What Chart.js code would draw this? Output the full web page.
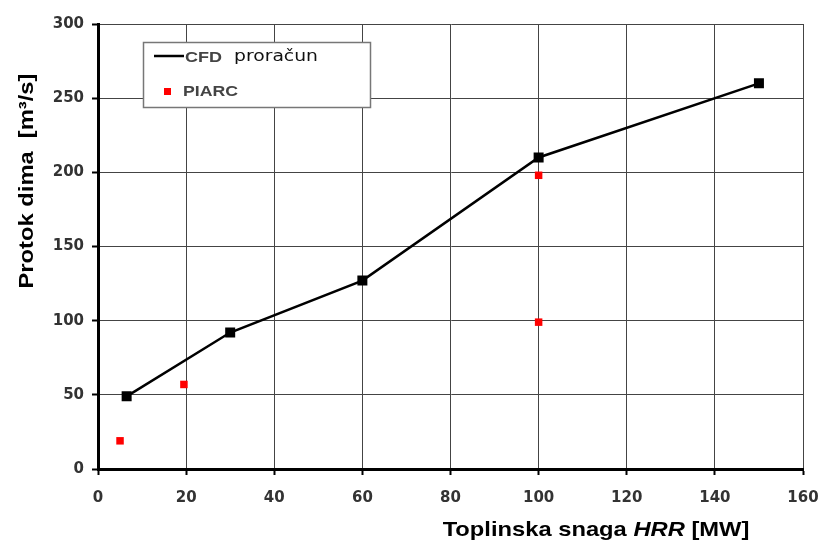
<!DOCTYPE html>
<html>
<head>
<meta charset="utf-8">
<script src="https://cdn.jsdelivr.net/npm/chart.js@4/dist/chart.umd.min.js"></script>
<style>
  html, body { margin: 0; padding: 0; background: #fff; }
  #wrap { width: 821px; height: 543px; }
</style>
</head>
<body>
<div id="wrap"><canvas id="chart" width="821" height="543"></canvas></div>
<script>
// values
var cfdX = [6.5, 30, 60, 100, 150];
var cfdY = [49, 92, 127, 210, 260];
var piarcX = [5, 19.5, 100, 100];
var piarcY = [19, 57, 198, 99];
var xTicks = [0, 20, 40, 60, 80, 100, 120, 140, 160];
var yTicks = [0, 50, 100, 150, 200, 250, 300];

function pts(xs, ys) {
    return xs.map(function (x, i) { return { x: x, y: ys[i] }; });
}

var ARIAL = '"Liberation Sans", Arial, sans-serif';

// draws runs of text with a horizontal stretch, left edge at x
function stretchedRuns(ctx, runs, x, y, sx) {
    ctx.save();
    ctx.translate(x, y);
    ctx.scale(sx, 1);
    var cx = 0;
    runs.forEach(function (r) {
        ctx.font = r.font;
        ctx.fillStyle = r.color || '#000';
        ctx.fillText(r.text, cx, 0);
        cx += ctx.measureText(r.text).width;
    });
    ctx.restore();
}

function runsWidth(ctx, runs) {
    var w = 0;
    runs.forEach(function (r) { ctx.font = r.font; w += ctx.measureText(r.text).width; });
    return w;
}

// axis titles and boxed legend drawn by hand
var decorations = {
    id: 'decorations',
    afterDraw: function (chart) {
        var ctx = chart.ctx;
        var s = 1.13;
        ctx.save();
        ctx.textBaseline = 'middle';

        // y title
        var yRuns = [{ text: 'Protok dima  [m\u00b3/s]', font: 'bold 21px ' + ARIAL }];
        ctx.save();
        ctx.translate(27, 181);
        ctx.rotate(-Math.PI / 2);
        stretchedRuns(ctx, yRuns, -runsWidth(ctx, yRuns) * s / 2, 0, s);
        ctx.restore();

        // x title, HRR in italics
        var xRuns = [
            { text: 'Toplinska snaga ', font: 'bold 21px ' + ARIAL },
            { text: 'HRR', font: 'italic bold 21px ' + ARIAL },
            { text: ' [MW]', font: 'bold 21px ' + ARIAL }
        ];
        stretchedRuns(ctx, xRuns, 596 - runsWidth(ctx, xRuns) * s / 2, 530, s);

        // legend box
        ctx.fillStyle = '#fff';
        ctx.fillRect(143, 42, 227, 65);
        ctx.strokeStyle = '#777';
        ctx.lineWidth = 1.5;
        ctx.strokeRect(143.5, 42.5, 227, 65);
        ctx.strokeStyle = '#000';
        ctx.lineWidth = 2.5;
        ctx.beginPath();
        ctx.moveTo(154, 56);
        ctx.lineTo(184, 56);
        ctx.stroke();
        ctx.fillStyle = '#f00';
        ctx.fillRect(164, 88, 7, 7);
        stretchedRuns(ctx, [{ text: 'CFD', font: 'bold 15px ' + ARIAL, color: '#444' }], 185, 58, 1.2);
        stretchedRuns(ctx, [{ text: 'proračun', font: '15px "DejaVu Sans", sans-serif', color: '#111' }], 234, 57, 1.25);
        stretchedRuns(ctx, [{ text: 'PIARC', font: 'bold 15px ' + ARIAL, color: '#444' }], 183, 92, 1.18);
        ctx.restore();
    }
};

var tickFont = { family: '"DejaVu Sans", sans-serif', size: 15, weight: 'bold' };

new Chart(document.getElementById('chart'), {
    type: 'scatter',
    data: {
        datasets: [{
            label: 'CFD proračun',
            data: pts(cfdX, cfdY),
            showLine: true,
            borderColor: '#000',
            borderWidth: 2.5,
            backgroundColor: '#000',
            pointStyle: 'rect',
            pointRadius: 5.3,
            pointHoverRadius: 5.3,
            order: 2
        }, {
            label: 'PIARC',
            data: pts(piarcX, piarcY),
            showLine: false,
            borderWidth: 0,
            backgroundColor: '#f00',
            pointStyle: 'rect',
            pointRadius: 5.3,
            pointHoverRadius: 5.3,
            order: 1
        }]
    },
    options: {
        responsive: false,
        animation: false,
        layout: { padding: { top: 24, right: 18, left: 0, bottom: 0 } },
        plugins: {
            legend: { display: false },
            tooltip: { enabled: false }
        },
        scales: {
            x: {
                type: 'linear',
                min: 0,
                max: 160,
                afterBuildTicks: function (s) { s.ticks = xTicks.map(function (v) { return { value: v }; }); },
                afterFit: function (s) { s.height = 74; s.paddingLeft = 0; s.paddingRight = 0; },
                grid: { color: '#444', lineWidth: 1, tickLength: 6, tickColor: '#000', tickWidth: 2 },
                border: { color: '#000', width: 3 },
                ticks: { color: '#333', padding: 14, font: tickFont }
            },
            y: {
                type: 'linear',
                min: 0,
                max: 300,
                afterBuildTicks: function (s) { s.ticks = yTicks.map(function (v) { return { value: v }; }); },
                afterFit: function (s) { s.width = 98; s.paddingTop = 0; s.paddingBottom = 0; },
                grid: { color: '#444', lineWidth: 1, tickLength: 6, tickColor: '#000', tickWidth: 2 },
                border: { color: '#000', width: 3 },
                ticks: { color: '#333', padding: 8, font: tickFont }
            }
        }
    },
    plugins: [decorations]
});
</script>
</body>
</html>
